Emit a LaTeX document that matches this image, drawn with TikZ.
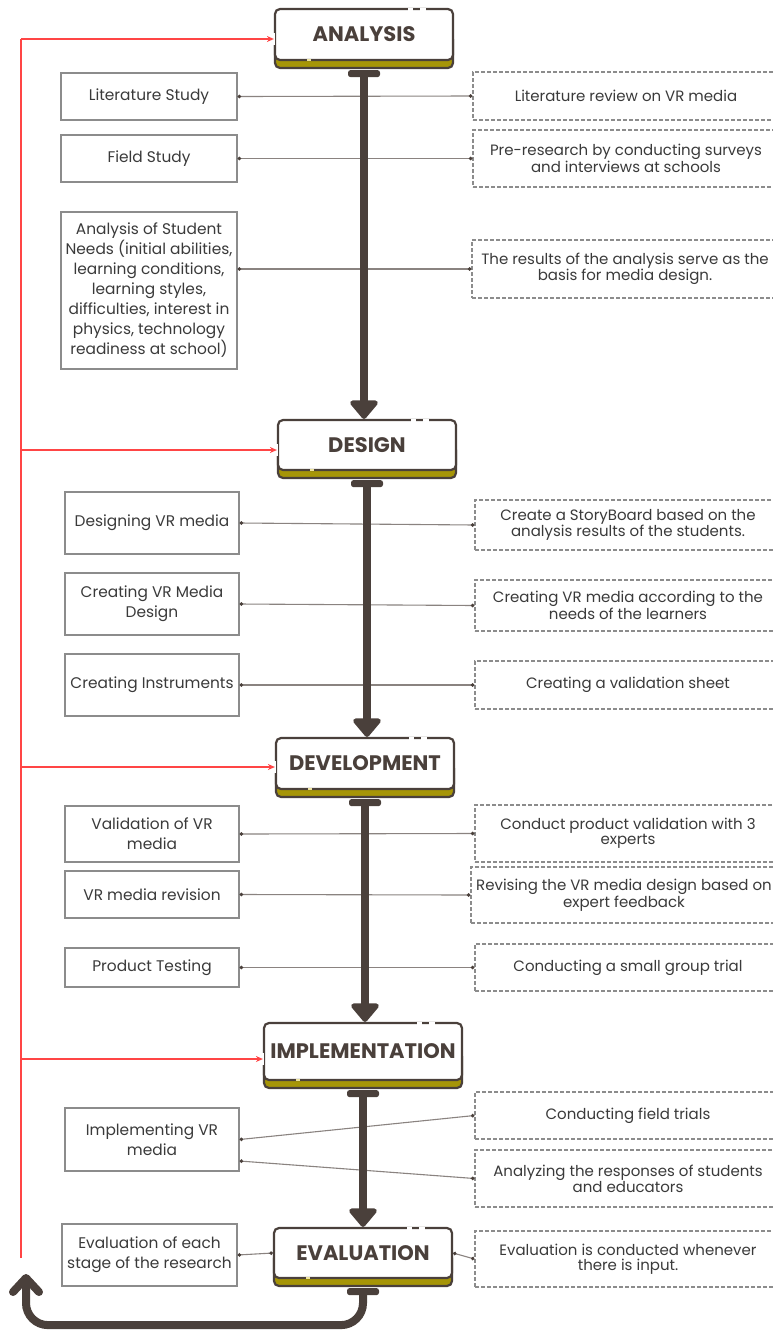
\documentclass[tikz,border=0pt]{standalone}
\usepackage{fontspec}
\setmainfont{Poppins}
\usetikzlibrary{arrows.meta}
\definecolor{dk}{HTML}{4A403B}
\definecolor{olv}{HTML}{A69507}
\definecolor{redl}{HTML}{FF4545}
\definecolor{bx}{HTML}{8C8C8C}
\definecolor{cn}{HTML}{8A8380}
\definecolor{txt}{HTML}{3A3A3A}
\definecolor{gapy}{HTML}{EDE3A0}
\newcommand{\stg}[6]{%
  \filldraw[fill=olv, draw=dk, line width=2.2pt, rounded corners=5pt] (#2-#4/2, #3) rectangle (#2+#4/2, #3+#5/2+8);
  \node[stagenode, minimum width=#4, minimum height=#5] (#1) at (#2,#3) {#6};
  \draw[white, line width=3pt] (#2+#4/2-45, #3-#5/2) -- ++(5,0);
  \draw[white, line width=3pt] (#2+#4/2-33, #3-#5/2) -- ++(6,0);
  \draw[gapy, line width=2.4pt] (#2-#4/2+32, #3+#5/2) -- ++(4,0);
}
\begin{document}
\begin{tikzpicture}[x=1pt,y=-1pt,
  stagenode/.style={draw=dk, line width=2.2pt, fill=white, rounded corners=5pt, text=dk, font=\fontsize{21}{23}\selectfont\bfseries, inner sep=0pt},
  lbox/.style={draw=bx, line width=1.3pt, fill=white, text=txt, align=center, font=\fontsize{15.4}{20}\selectfont, inner sep=0pt, minimum width=174},
  rbox/.style={draw=bx, line width=1.1pt, dash pattern=on 4pt off 2pt, fill=white, text=txt, align=center, font=\fontsize{15}{15}\selectfont, inner sep=0pt, minimum width=306},
  conn/.style={draw=cn, line width=1.1pt, {Circle[length=3.5pt,color=dk]}-{Circle[length=3.5pt,color=dk]}},
  spine/.style={draw=dk, line width=8pt},
  spinearr/.style={spine, -{Triangle[width=32pt,length=20pt,round]}},
  redarr/.style={draw=redl, line width=2pt, -{Stealth[length=7pt,width=6pt]}},
  gapw/.style={white, line width=3pt},
]
\clip (0,0) rectangle (773,1331);
\fill[white] (0,0) rectangle (773,1331);

% stages
\stg{AN}{364}{34.5}{178}{51}{ANALYSIS}
\stg{DE}{367}{445}{178}{50}{DESIGN}
\stg{DV}{365}{763.5}{178}{51}{DEVELOPMENT}
\stg{IM}{363}{1051.5}{198}{57}{IMPLEMENTATION}
\stg{EV}{363}{1253}{178}{50}{EVALUATION}

% left boxes
\node[lbox, minimum width=176, minimum height=47] (L1) at (149,96.5) {Literature Study};
\node[lbox, minimum width=176, minimum height=47] (L2) at (149,158.5) {Field Study};
\node[lbox, minimum width=176, minimum height=157] (L3) at (149,290.5) {Analysis of Student\\Needs (initial abilities,\\learning conditions,\\learning styles,\\difficulties, interest in\\physics, technology\\readiness at school)};
\node[lbox, minimum height=62] (L4) at (152,523) {Designing VR media};
\node[lbox, minimum height=62] (L5) at (152,604) {Creating VR Media\\Design};
\node[lbox, minimum height=62] (L6) at (152,685) {Creating Instruments};
\node[lbox, minimum height=56] (L7) at (152,834) {Validation of VR\\media};
\node[lbox, minimum height=47] (L8) at (152,894.5) {VR media revision};
\node[lbox, minimum height=39] (L9) at (152,967.5) {Product Testing};
\node[lbox, minimum height=63] (L10) at (152,1139.5) {Implementing VR\\media};
\node[lbox, minimum width=175, minimum height=62] (L11) at (149.5,1255) {Evaluation of each\\stage of the research};

% right boxes
\node[rbox, minimum height=48] (R1) at (626,96) {Literature review on VR media};
\node[rbox, minimum height=57] (R2) at (626,158.5) {Pre-research by conducting surveys\\and interviews at schools};
\node[rbox, minimum height=58] (R3) at (625,269) {The results of the analysis serve as the\\basis for media design.};
\node[rbox, minimum height=50] (R4) at (628,525) {Create a StoryBoard based on the\\analysis results of the students.};
\node[rbox, minimum height=51] (R5) at (628,605.5) {Creating VR media according to the\\needs of the learners};
\node[rbox, minimum height=48] (R6) at (628,685) {Creating a validation sheet};
\node[rbox, minimum height=57] (R7) at (628,833.5) {Conduct product validation with 3\\experts};
\node[rbox, minimum height=56] (R8) at (624,895) {Revising the VR media design based on\\expert feedback};
\node[rbox, minimum height=47] (R9) at (628,967.5) {Conducting a small group trial};
\node[rbox, minimum height=47] (R10) at (628,1115.5) {Conducting field trials};
\node[rbox, minimum height=57] (R11) at (628,1178.5) {Analyzing the responses of students\\and educators};
\node[rbox, minimum height=56] (R12) at (628,1259) {Evaluation is conducted whenever\\there is input.};

% connectors
\draw[conn] (L1.east) -- (R1.west);
\draw[conn] (L2.east) -- (R2.west);
\draw[conn] (L3.east |- R3.west) -- (R3.west);
\draw[conn] (L4.east) -- (R4.west);
\draw[conn] (L5.east) -- (R5.west);
\draw[conn] (L6.east) -- (R6.west);
\draw[conn] (L7.east) -- (R7.west);
\draw[conn] (L8.east) -- (R8.west);
\draw[conn] (L9.east) -- (R9.west);
\draw[conn] (L10.east) -- (R10.west);
\draw[conn] ([yshift=-21.5pt]L10.east) -- (R11.west);
\draw[conn] (L11.east) -- (EV.west);
\draw[conn] (EV.east) -- (R12.west);

% spine
\draw[spinearr] ([yshift=-12pt]AN.south) -- (AN.south |- DE.north);
\draw[spinearr] ([yshift=-12pt]DE.south) -- (DE.south |- DV.north);
\draw[spinearr] ([yshift=-12pt]DV.south) -- (DV.south |- IM.north);
\draw[spinearr] ([yshift=-12pt]IM.south) -- (IM.south |- EV.north);
\foreach \s in {AN,DE,DV,IM,EV}{
  \fill[dk, rounded corners=2.5pt] ([xshift=-16pt,yshift=-9pt]\s.south) rectangle ([xshift=16pt,yshift=-16pt]\s.south);
}
% loop back
\coordinate (lp) at (26,1282);
\draw[spine, rounded corners=22pt] ([yshift=-12pt]EV.south) -- ++(0,34) -| (lp);
\coordinate (ca) at (26,1278);
\draw[spine, line cap=round, line join=round] ([shift={(-13pt,-14pt)}]ca) -- (ca) -- ([shift={(13pt,-14pt)}]ca);

% red feedback
\coordinate (r0) at (21,1258);
\coordinate (r1) at (21,39);
\coordinate (r2) at (21,450);
\coordinate (r3) at (21,767);
\coordinate (r4) at (21,1059);
\draw[gapw] (r1 -| AN.west) ++(0,-6) -- ++(0,12);
\draw[gapw] (r2 -| DE.west) ++(0,-6) -- ++(0,12);
\draw[gapw] (r3 -| DV.west) ++(0,-6) -- ++(0,12);
\draw[gapw] (r4 -| IM.west) ++(0,-6) -- ++(0,12);
\draw[redl, line width=2.8pt] (r0) -- (r1);
\draw[redarr] (r1) -- (r1 -| AN.west);
\draw[redarr] (r2) -- (r2 -| DE.west);
\draw[redarr] (r3) -- (r3 -| DV.west);
\draw[redarr] (r4) -- (r4 -| IM.west);
\end{tikzpicture}
\end{document}
